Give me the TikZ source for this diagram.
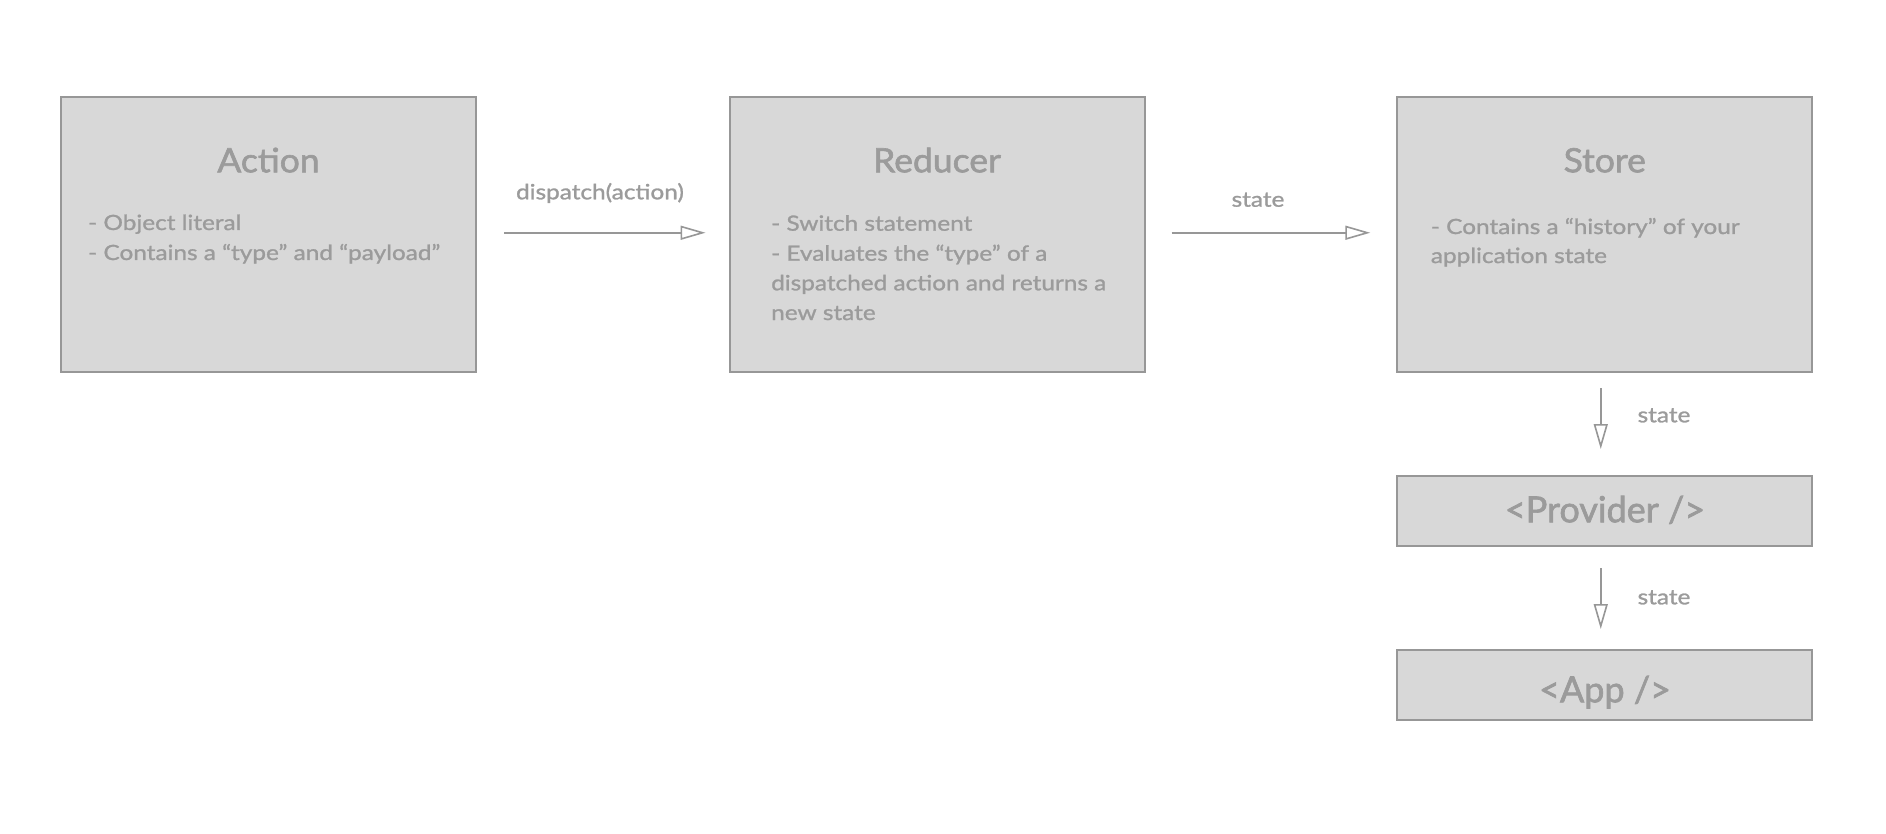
\documentclass[tikz,border=0pt]{standalone}
\usepackage{fontspec}
\setmainfont{Lato}
\newfontfamily\bodyfont{Lato}[FakeStretch=1.16, FakeBold=1.2]
\newfontfamily\titlefont{Lato}[FakeStretch=1.06, FakeBold=1.8]
\newfontfamily\compfont{Lato}[FakeBold=1.8]
\usetikzlibrary{arrows.meta,calc}
\definecolor{boxfill}{HTML}{D8D8D8}
\definecolor{boxline}{HTML}{979797}
\definecolor{txt}{HTML}{9B9B9B}
\tikzset{
  box/.style={draw=boxline, fill=boxfill, line width=2pt, inner sep=0pt, minimum width=415pt},
  bigbox/.style={box, minimum height=274.5pt},
  smallbox/.style={box, minimum height=70pt},
  title/.style={text=txt, anchor=base, inner sep=0pt, font=\titlefont\fontsize{33.5}{40}\selectfont},
  comp/.style={text=txt, anchor=base, inner sep=0pt, font=\compfont\fontsize{36}{40}\selectfont},
  bullet/.style={text=txt, anchor=base west, inner sep=0pt, font=\bodyfont\fontsize{21}{30}\selectfont},
  lbl/.style={text=txt, anchor=base, inner sep=0pt, font=\bodyfont\fontsize{21}{30}\selectfont},
  conn/.style={draw=boxline, line width=1.6pt, -{Triangle[open, length=25pt, width=14pt, line width=1.6pt]}}
}
\begin{document}
\begin{tikzpicture}[x=1pt,y=-1pt]
\useasboundingbox[fill=white] (0,0) rectangle (1886,834);

% boxes
\node[bigbox] (action) at (268.5,234.75) {};
\node[bigbox] (reducer) at (937,234.75) {};
\node[bigbox] (store) at (1604.75,234.75) {};
\node[smallbox] (provider) at (1604.75,511) {};
\node[smallbox] (app) at (1604.75,685) {};

% titles
\node[title] (actiont) at (268.5,172.3) {Action};
\node[title] (reducert) at (937,172.3) {Reducer};
\node[title] (storet) at (1604.75,172.3) {Store};
\node[comp] (providert) at (1605,522.3) {<Provider />};
\node[comp] (appt) at (1605,702.3) {<App />};

% bullets
\node[bullet] (a1) at (88,230) {- Object literal};
\node[bullet] (a2) at (88,260) {- Contains a “type” and “payload”};
\node[bullet] (r1) at (771,230.7) {- Switch statement};
\node[bullet] (r2) at (771,260.7) {- Evaluates the “type” of a};
\node[bullet] (r3) at (771,290.3) {dispatched action and returns a};
\node[bullet] (r4) at (771,320) {new state};
\node[bullet] (s1) at (1430.7,234) {- Contains a “history” of your};
\node[bullet] (s2) at (1430.7,263) {application state};

% connector end points
\coordinate (c1s) at ($(action.east)+(27,-2)$);
\coordinate (c1e) at ($(reducer.west)+(-23,-2)$);
\coordinate (c2s) at ($(reducer.east)+(26,-2)$);
\coordinate (c2e) at ($(store.west)+(-26,-2)$);
\coordinate (c3s) at ($(store.south)+(-4,15)$);
\coordinate (c3e) at ($(provider.north)+(-4,-26)$);
\coordinate (c4s) at ($(provider.south)+(-4,21)$);
\coordinate (c4e) at ($(app.north)+(-4,-20)$);

\draw[conn] (c1s) -- (c1e);
\draw[conn] (c2s) -- (c2e);
\draw[conn] (c3s) -- (c3e);
\draw[conn] (c4s) -- (c4e);

% labels
\node[lbl] (l1) at (600,199.3) {dispatch(action)};
\node[lbl] (l2) at (1258,206.7) {state};
\node[lbl] (l3) at (1664,422.3) {state};
\node[lbl] (l4) at (1664,604.3) {state};
\end{tikzpicture}
\end{document}
